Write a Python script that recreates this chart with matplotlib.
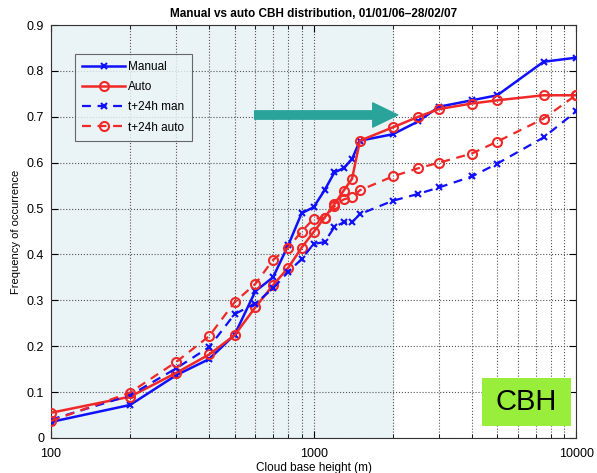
import numpy as np
import matplotlib.pyplot as plt
from matplotlib.patches import Rectangle
from matplotlib.ticker import FixedLocator, NullFormatter, FuncFormatter

# cloud base heights (m) and cumulative frequencies
height = [100, 200, 300, 400, 500, 600, 700, 800, 900, 1000, 1100, 1200,
          1300, 1400, 1500, 2000, 2500, 3000, 4000, 5000, 7500, 10000]
manual = [0.035, 0.072, 0.137, 0.172, 0.225, 0.32, 0.35, 0.42, 0.49, 0.503, 0.54,
          0.579, 0.588, 0.608, 0.648, 0.662, 0.69, 0.722, 0.736, 0.747, 0.82, 0.829]
auto = [0.055, 0.09, 0.142, 0.182, 0.224, 0.285, 0.333, 0.371, 0.415, 0.449, 0.48,
        0.51, 0.539, 0.565, 0.648, 0.677, 0.70, 0.717, 0.729, 0.736, 0.747, 0.747]
man24 = [0.04, 0.093, 0.152, 0.198, 0.27, 0.293, 0.326, 0.362, 0.39, 0.423, 0.427,
         0.46, 0.47, 0.47, 0.488, 0.517, 0.532, 0.546, 0.57, 0.598, 0.655, 0.712]
auto24 = [0.037, 0.099, 0.166, 0.222, 0.296, 0.336, 0.388, 0.415, 0.45, 0.478, 0.48,
          0.505, 0.52, 0.525, 0.54, 0.57, 0.588, 0.60, 0.62, 0.646, 0.696, 0.748]

plt.rcParams['font.family'] = ['Liberation Sans', 'DejaVu Sans']

fig = plt.figure(figsize=(5.97, 4.73), dpi=100)
ax = fig.add_axes([0.0854, 0.074, 0.88, 0.873])

blue = '#1010ff'
red = '#f02828'

# shaded region of interest
ax.axvspan(100, 2000, color='#eaf3f6', zorder=0)

ax.plot(height, manual, '-', color=blue, lw=1.8, marker='x', ms=4, mew=1.5, label='Manual', zorder=3)
ax.plot(height, auto, '-', color=red, lw=1.8, marker='o', ms=6.5, mfc='none', mew=1.5, label='Auto', zorder=3)
ax.plot(height, man24, '--', color=blue, lw=1.6, marker='x', ms=4, mew=1.5, dashes=(4, 3),
        label='t+24h man', zorder=3)
ax.plot(height, auto24, '--', color=red, lw=1.6, marker='o', ms=6.5, mfc='none', mew=1.5, dashes=(4, 3),
        label='t+24h auto', zorder=3)

ax.set_xscale('log')
ax.set_xlim(100, 10000)
ax.set_ylim(0, 0.9)
ax.set_yticks(np.arange(0, 0.91, 0.1))
ax.yaxis.set_major_formatter(FuncFormatter(lambda v, p: '0' if v == 0 else '%g' % round(v, 1)))
ax.xaxis.set_major_locator(FixedLocator([100, 1000, 10000]))
ax.xaxis.set_major_formatter(FuncFormatter(lambda v, p: '%d' % v))
ax.xaxis.set_minor_formatter(NullFormatter())
ax.tick_params(which='both', direction='in', top=True, right=True, labelsize=9)
ax.tick_params(which='major', length=5)
ax.tick_params(which='minor', length=3)
ax.tick_params(axis='x', pad=7)
ax.tick_params(axis='y', pad=5)
ax.grid(True, which='both', axis='x', ls=':', color='#555555', lw=0.8)
ax.grid(True, which='major', axis='y', ls=':', color='#555555', lw=0.8)
ax.set_axisbelow(True)
for s in ax.spines.values():
    s.set_linewidth(0.8)
    s.set_color('#333333')

ax.set_title('Manual vs auto CBH distribution, 01/01/06\u201328/02/07', fontsize=8.5,
             fontweight='bold', pad=6)
ax.set_xlabel('Cloud base height (m)', fontsize=8.5, labelpad=2)
ax.set_ylabel('Frequency of occurrence', fontsize=8)

leg = ax.legend(loc='upper left', bbox_to_anchor=(0.035, 0.945), fontsize=8.5,
                frameon=True, fancybox=False, handlelength=3.6, borderpad=0.6,
                labelspacing=0.7, handletextpad=0.3)
leg.get_frame().set_facecolor('#eaf3f6')
leg.get_frame().set_edgecolor('#444444')
leg.get_frame().set_linewidth(0.8)

# teal arrow
ax.annotate('', xy=(2090, 0.704), xytext=(596, 0.704),
            arrowprops=dict(arrowstyle='simple,head_length=0.9,head_width=0.87,tail_width=0.3',
                            color='#2aa39a', shrinkA=0, shrinkB=0, mutation_scale=20),
            zorder=4)

# CBH label box
fig.patches.append(Rectangle((481.7 / 597, 1 - 426 / 473), 89 / 597, 48 / 473,
                             transform=fig.transFigure, facecolor='#98ee3a',
                             edgecolor='none', zorder=5))
fig.text(526 / 597, 1 - 402 / 473, 'CBH', fontsize=21, ha='center', va='center', zorder=6)

fig.savefig('out.png', dpi=100)
